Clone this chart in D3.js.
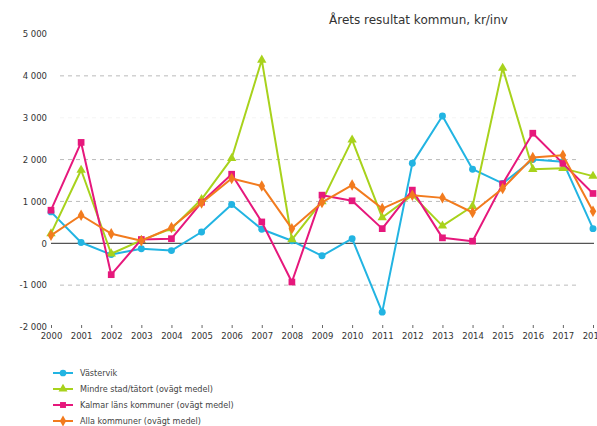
<!DOCTYPE html>
<html><head><meta charset="utf-8">
<script src="https://cdn.jsdelivr.net/npm/d3@7"></script>
<style>body{margin:0;background:#fff;} svg{display:block;}</style>
</head><body>
<svg id="c" width="597" height="426"></svg>
<script>
const years = [2000,2001,2002,2003,2004,2005,2006,2007,2008,2009,2010,2011,2012,2013,2014,2015,2016,2017,2018];
const vastervik = [750,20,-270,-130,-175,270,925,335,60,-300,110,-1645,1910,3040,1770,1430,2000,1950,350];
const mindre = [230,1750,-250,70,350,1050,2030,4380,90,1000,2470,615,1150,415,885,4185,1770,1790,1605];
const kalmar = [790,2410,-750,90,110,980,1650,510,-925,1150,1015,350,1270,130,50,1420,2630,1910,1190];
const alla = [190,670,230,60,375,965,1550,1370,350,975,1390,830,1150,1085,735,1310,2050,2105,765];
const yTicks = [5000,4000,3000,2000,1000,0,-1000,-2000];
const gridVals = [4000,3000,2000,1000,-1000];
const seriesNames = ["Västervik","Mindre stad/tätort (ovägt medel)","Kalmar läns kommuner (ovägt medel)","Alla kommuner (ovägt medel)"];
const seriesColors = ["#22b4e2","#a8d21c","#e6187c","#f27b1e"];
const seriesShapes = [d3.symbolCircle,d3.symbolTriangle,d3.symbolSquare,d3.symbolDiamond];
const seriesData = [vastervik,mindre,kalmar,alla];

const svg = d3.select("#c");
const font = "'DejaVu Sans', Verdana, sans-serif";
const x = d3.scaleLinear().domain([2000,2018]).range([51,593]);
const y = d3.scaleLinear().domain([-2000,5000]).range([327,34]);

svg.append("text").attr("x",329).attr("y",24).attr("font-family",font).attr("font-size",12)
  .attr("fill","#333").text("Årets resultat kommun, kr/inv");

// gridlines
svg.append("g").selectAll("line").data(gridVals).join("line")
  .attr("x1",60).attr("x2",580).attr("y1",d=>y(d)).attr("y2",d=>y(d))
  .attr("stroke",d=>d===3000?"#f3f3f3":"#aaa").attr("stroke-width",0.8).attr("stroke-dasharray","4,4");

// zero line
svg.append("line").attr("x1",51).attr("x2",594).attr("y1",y(0)).attr("y2",y(0))
  .attr("stroke","#555").attr("stroke-width",1.2);

// y axis
const yAxis = d3.axisLeft(y).tickValues(yTicks).tickSize(0).tickPadding(0)
  .tickFormat(d=>d3.format(",")(d).replace(/,/g," ").replace("−","-"));
const gy = svg.append("g").attr("transform","translate(47,0)").call(yAxis);
gy.select(".domain").remove();
gy.selectAll("text").attr("font-family",font).attr("font-size",8.5).attr("fill","#333");

// x axis
const xAxis = d3.axisBottom(x).tickValues(years).tickFormat(d3.format("d")).tickSize(3).tickPadding(5);
const gx = svg.append("g").attr("transform","translate(0,"+(y(-2000)-2)+")").call(xAxis);
gx.select(".domain").remove();
gx.selectAll("line").attr("stroke","#666");
gx.selectAll("text").attr("font-family",font).attr("font-size",8.5).attr("fill","#333");

// series
const line = d3.line().x((d,i)=>x(years[i])).y(d=>y(d));
seriesData.forEach((vals,k)=>{
  const g = svg.append("g");
  g.append("path").datum(vals).attr("d",line).attr("fill","none")
    .attr("stroke",seriesColors[k]).attr("stroke-width",2).attr("stroke-linejoin","round");
  g.selectAll("path.m").data(vals).join("path").attr("class","m")
    .attr("transform",(d,i)=>"translate("+x(years[i])+","+y(d)+")")
    .attr("d",d3.symbol().type(seriesShapes[k]).size(k===2?45:38))
    .attr("fill",seriesColors[k]);
});

// legend
const lg = svg.append("g");
seriesNames.forEach((n,k)=>{
  const yy = 373 + k*16;
  lg.append("line").attr("x1",53).attr("x2",73).attr("y1",yy).attr("y2",yy)
    .attr("stroke",seriesColors[k]).attr("stroke-width",2);
  lg.append("path").attr("transform","translate(63,"+yy+")")
    .attr("d",d3.symbol().type(seriesShapes[k]).size(35)).attr("fill",seriesColors[k]);
  lg.append("text").attr("x",80).attr("y",yy+3).attr("font-family",font).attr("font-size",8.1)
    .attr("fill","#444").text(n);
});
</script>
</body></html>
